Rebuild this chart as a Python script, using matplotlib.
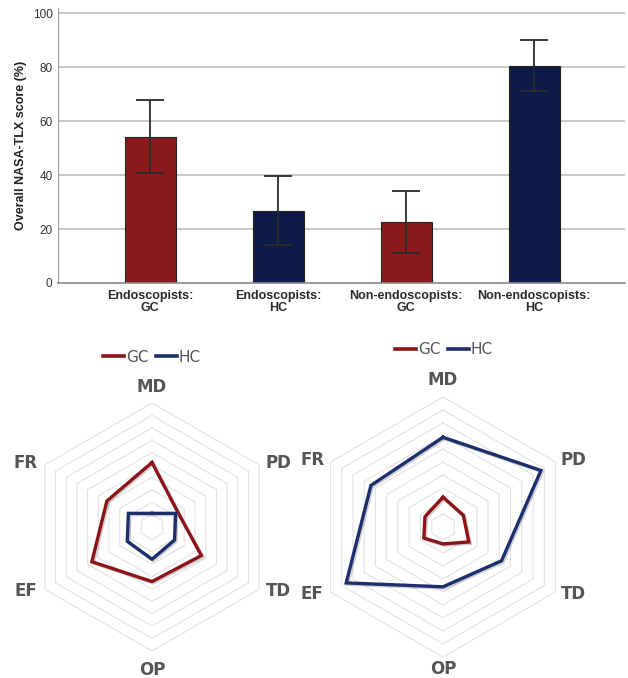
import numpy as np
import matplotlib.pyplot as plt
import matplotlib.patheffects as pe
from matplotlib.lines import Line2D

# ---------------------------------------------------
# data
# ---------------------------------------------------
groups = ["Endoscopists:\nGC", "Endoscopists:\nHC",
          "Non-endoscopists:\nGC", "Non-endoscopists:\nHC"]
tlx_mean = [54.3, 26.8, 22.6, 80.5]
tlx_upper = [67.7, 39.7, 34.1, 90.0]
tlx_lower = [40.7, 14.1, 11.0, 71.2]

dims = ["MD", "PD", "TD", "OP", "EF", "FR"]
endo_gc = [52, 24, 46, 44, 56, 42]
endo_hc = [11, 22, 21, 26, 23, 22]
nonendo_gc = [23, 18, 23, 13, 17, 16]
nonendo_hc = [69, 87, 52, 46, 86, 64]

RED = "#8b1a1c"
NAVY = "#0c1b48"
RED_L = "#8c1418"
BLUE_L = "#1c2f6c"

bar_font = "Liberation Sans"

fig = plt.figure(figsize=(6.28, 6.78), dpi=100)

# ---------------------------------------------------
# bar chart
# ---------------------------------------------------
ax = fig.add_axes([58 / 628, 1 - 283 / 678, 567 / 628, 275 / 678])
x = np.arange(len(groups))
mean = np.array(tlx_mean)
yerr = [mean - np.array(tlx_lower), np.array(tlx_upper) - mean]
colors = [RED, NAVY, RED, NAVY]

for y in range(20, 101, 20):
    ax.axhline(y, color="#c4c4c4", lw=1.3, zorder=0)
ax.bar(x, mean, width=0.4, color=colors, edgecolor="#222222", linewidth=0.8, zorder=2)
ax.errorbar(x, mean, yerr=yerr, fmt="none", ecolor="#2b2b2b", elinewidth=1.3,
            capsize=10, capthick=1.3, zorder=3)

ax.set_xlim(-0.72, 3.71)
ax.set_ylim(0, 102)
ax.set_yticks(range(0, 101, 20))
ax.set_xticks(x)
ax.set_xticklabels(groups, fontweight="bold", fontsize=9, family=bar_font,
                   color="#2a2a2a", linespacing=1.0)
for lab in ax.get_yticklabels():
    lab.set_family(bar_font)
ax.tick_params(axis="y", length=0, pad=4, labelsize=8.5, labelcolor="#333333")
ax.tick_params(axis="x", length=0, pad=5)
ax.set_ylabel("Overall NASA-TLX score (%)", fontweight="bold", fontsize=9,
              family=bar_font, color="#222222", labelpad=4)
for s in ("top", "right"):
    ax.spines[s].set_visible(False)
ax.spines["left"].set_color("#9a9a9a")
ax.spines["bottom"].set_color("#8a8a8a")
ax.spines["bottom"].set_linewidth(1.2)

# ---------------------------------------------------
# radar charts
# ---------------------------------------------------
def radar(rect, gc, hc, legend_xy, r_top, r_side, r_bot):
    rx = fig.add_axes(rect, projection="polar")
    ang = np.linspace(0, 2 * np.pi, len(dims), endpoint=False)
    ang_c = np.append(ang, ang[0])
    rx.set_theta_offset(np.pi / 2)
    rx.set_theta_direction(-1)
    rx.set_ylim(0, 100)
    rx.grid(False)
    rx.set_xticks([])
    rx.set_yticks([])
    rx.spines["polar"].set_visible(False)

    for r in range(10, 101, 10):
        rx.plot(ang_c, [r] * len(ang_c), color="#e2e2e2", lw=0.8, zorder=1)

    shadow = [pe.SimpleLineShadow(offset=(1, -1), shadow_color="#777777", alpha=0.35),
              pe.Normal()]
    for vals, col in ((gc, RED_L), (hc, BLUE_L)):
        v = np.append(vals, vals[0])
        rx.plot(ang_c, v, color=col, lw=2.4, zorder=3,
                solid_joinstyle="miter", path_effects=shadow)

    # side labels sit a bit flatter than the spokes
    label_theta = np.deg2rad([0, 63, 117, 180, 243, 297])
    label_r = [r_top, r_side, r_side, r_bot, r_side, r_side]
    for a, r, lab in zip(label_theta, label_r, dims):
        rx.text(a, r, lab, ha="center", va="center", fontsize=12,
                fontweight="bold", color="#555555", family="DejaVu Sans")

    handles = [Line2D([], [], color=RED_L, lw=2.6), Line2D([], [], color=BLUE_L, lw=2.6)]
    rx.legend(handles, ["GC", "HC"], loc="center", bbox_to_anchor=legend_xy,
              bbox_transform=fig.transFigure, ncol=2, frameon=False,
              handlelength=1.4, handletextpad=0.1, columnspacing=0.5,
              prop={"family": "DejaVu Sans", "size": 11}, labelcolor="#555555")
    return rx

radar([(152 - 124) / 628, 1 - (527 + 124) / 678, 248 / 628, 248 / 678],
      endo_gc, endo_hc, (152 / 628, 1 - 357 / 678), 113, 114, 115)
radar([(443 - 130) / 628, 1 - (527 + 130) / 678, 260 / 628, 260 / 678],
      nonendo_gc, nonendo_hc, (444 / 628, 1 - 350 / 678), 113, 113, 109)

fig.savefig("out.png", dpi=100)
